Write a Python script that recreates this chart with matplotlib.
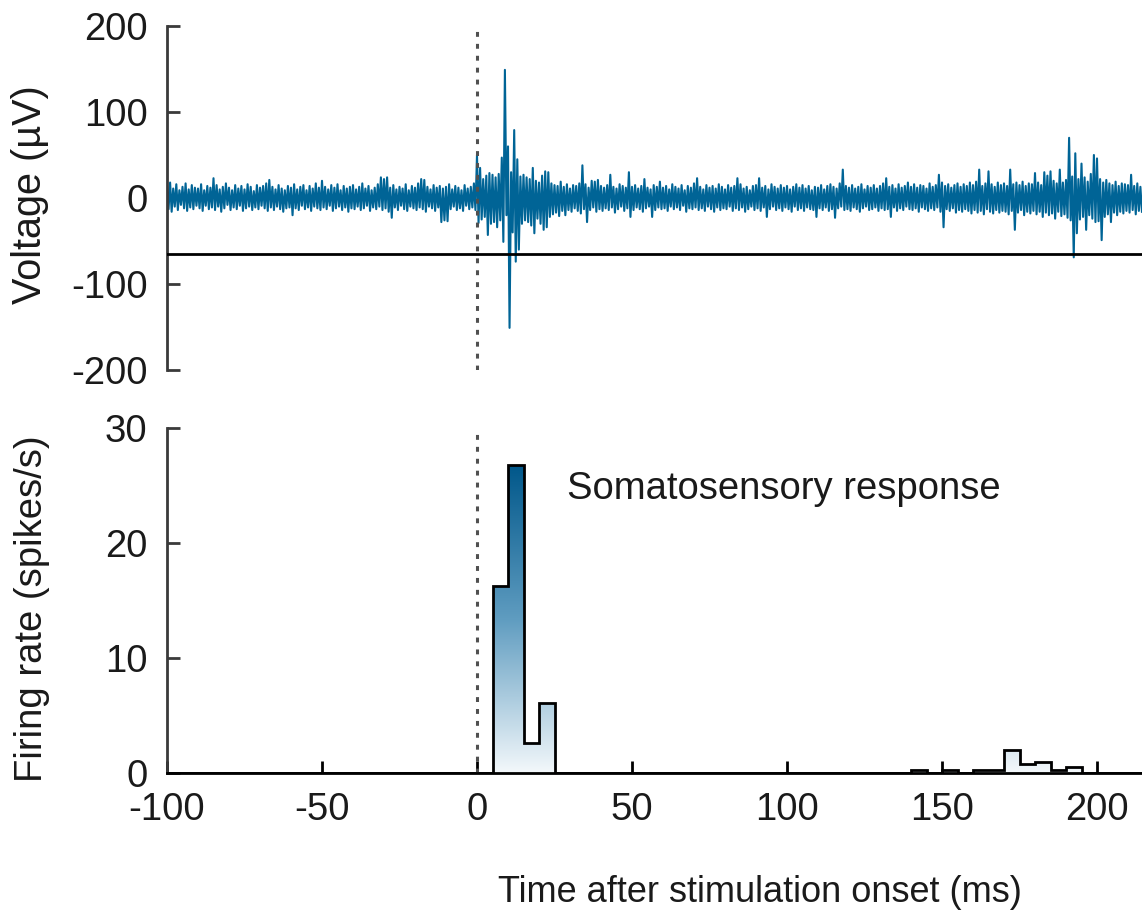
import numpy as np
import matplotlib
matplotlib.use("Agg")
import matplotlib.pyplot as plt
from matplotlib.colors import LinearSegmentedColormap
from matplotlib.patches import Polygon

plt.rcParams['font.family'] = ['Liberation Sans', 'DejaVu Sans']
plt.rcParams['axes.unicode_minus'] = False

# ---------------- data ----------------
# voltage trace: per-ms upper and lower excursions (µV), t = -100 .. 214 ms
trace_t0 = -100
trace_up = [
    14, 18, 11, 16, 9, 13, 17, 10, 15, 12,
    11, 16, 9, 14, 12, 23, 15, 10, 13, 17,
    12, 9, 15, 11, 14, 10, 16, 13, 8, 15,
    12, 14, 17, 21, 13, 10, 15, 11, 9, 14,
    12, 16, 10, 13, 15, 9, 14, 11, 17, 12,
    20, 13, 10, 15, 12, 16, 9, 14, 11, 13,
    15, 10, 13, 17, 11, 14, 9, 12, 16, 24,
    22, 24, 12, 15, 10, 13, 11, 16, 9, 14,
    12, 17, 22, 21, 13, 10, 15, 12, 14, 11,
    13, 16, 10, 14, 12, 9, 15, 11, 13, 17,
    50, 35, 22, 26, 29, 27, 24, 28, 47, 149,
    60, 30, 79, 45, 25, 27, 24, 22, 35, 20,
    18, 26, 31, 30, 17, 15, 14, 19, 13, 16,
    11, 15, 14, 17, 38, 16, 12, 20, 19, 21,
    14, 12, 15, 27, 13, 11, 16, 14, 12, 30,
    13, 15, 11, 14, 22, 12, 10, 15, 13, 19,
    12, 14, 10, 16, 13, 11, 15, 9, 14, 12,
    17, 23, 13, 10, 15, 12, 14, 11, 16, 13,
    10, 15, 12, 14, 23, 16, 11, 13, 9, 14,
    15, 23, 12, 14, 10, 16, 13, 11, 15, 12,
    14, 10, 13, 16, 12, 15, 11, 14, 9, 13,
    12, 15, 10, 14, 16, 13, 11, 17, 33, 14,
    12, 15, 11, 13, 16, 10, 14, 12, 15, 11,
    14, 17, 23, 13, 15, 11, 16, 12, 14, 18,
    13, 16, 12, 15, 14, 11, 17, 13, 15, 27,
    18, 14, 16, 12, 15, 17, 13, 16, 14, 18,
    15, 19, 33, 14, 17, 31, 16, 13, 18, 15,
    17, 14, 33, 16, 18, 15, 19, 14, 17, 16,
    29, 18, 15, 30, 26, 31, 20, 17, 33, 18,
    21, 70, 25, 52, 22, 40, 24, 19, 28, 50,
    46, 22, 18, 21, 17, 15, 19, 14, 17, 16,
    15, 27, 14, 17, 13,
]
trace_dn = [
    -13, -16, -10, -14, -8, -12, -15, -11, -13, -9,
    -12, -15, -9, -13, -11, -14, -10, -16, -12, -8,
    -14, -11, -13, -9, -15, -12, -10, -14, -11, -13,
    -9, -12, -15, -11, -14, -10, -13, -16, -12, -11,
    -20, -12, -14, -9, -13, -11, -15, -10, -12, -14,
    -11, -13, -9, -15, -12, -10, -14, -11, -16, -12,
    -13, -10, -14, -12, -9, -15, -11, -13, -10, -14,
    -12, -16, -23, -11, -14, -9, -13, -15, -10, -12,
    -14, -11, -13, -16, -10, -12, -15, -11, -28, -26,
    -27, -13, -10, -14, -12, -15, -9, -13, -11, -14,
    -29, -25, -22, -43, -30, -28, -34, -26, -51, -20,
    -151, -40, -74, -60, -30, -26, -28, -32, -41, -24,
    -30, -37, -34, -22, -19, -17, -21, -15, -20, -14,
    -16, -12, -15, -18, -13, -28, -14, -11, -16, -13,
    -15, -12, -14, -11, -17, -13, -10, -15, -12, -22,
    -14, -11, -13, -16, -12, -10, -22, -14, -11, -13,
    -12, -15, -10, -13, -11, -14, -9, -16, -12, -13,
    -11, -14, -12, -15, -10, -13, -16, -11, -14, -12,
    -13, -10, -15, -12, -14, -11, -16, -13, -10, -14,
    -12, -15, -11, -22, -13, -10, -14, -12, -15, -11,
    -13, -16, -10, -14, -12, -15, -11, -13, -14, -22,
    -12, -14, -11, -15, -13, -23, -12, -10, -14, -13,
    -15, -11, -13, -16, -12, -10, -14, -13, -11, -15,
    -12, -14, -13, -22, -11, -15, -12, -14, -10, -13,
    -14, -12, -16, -11, -13, -15, -12, -14, -11, -16,
    -34, -13, -15, -12, -17, -14, -16, -13, -15, -18,
    -14, -17, -15, -19, -13, -16, -18, -14, -17, -15,
    -16, -19, -15, -37, -17, -14, -20, -16, -18, -15,
    -19, -16, -22, -17, -20, -18, -24, -16, -21, -19,
    -23, -26, -69, -41, -25, -22, -37, -20, -24, -28,
    -27, -49, -22, -19, -28, -17, -20, -16, -18, -15,
    -17, -14, -19, -15, -16,
]
threshold_uv = -65

# PSTH
psth_edges = [-100, 5, 10, 15, 20, 25, 140, 145, 150, 155, 160, 165, 170,
              175, 180, 185, 190, 195, 215]
psth_rates = [0, 16.3, 26.8, 2.6, 6.1, 0, 0.3, 0, 0.25, 0, 0.3, 0.3, 2.0,
              0.8, 1.0, 0.25, 0.5, 0]

volt_ticks = [-200, -100, 0, 100, 200]
rate_ticks = [0, 10, 20, 30]
time_ticks = [-100, -50, 0, 50, 100, 150, 200]

# ---------------- figure ----------------
W, H = 1142, 917
fig = plt.figure(figsize=(W / 100, H / 100), dpi=100)

left = 167 / W
width = (W - 167) / W
xmax = -100 + (W - 167) / 3.1

ax1 = fig.add_axes([left, 1 - 370 / H, width, (370 - 26) / H])
ax2 = fig.add_axes([left, 1 - 773 / H, width, (773 - 428) / H])

trace_color = '#006496'
fs = 27.5
txt = '#1a1a1a'
spine_c = '#3a3a3a'
dot_kw = dict(color='#505050', lw=2.2, ls=(0, (1.6, 2.3)), zorder=4)

# trace as zig-zag between upper / lower excursions
up = np.array(trace_up, dtype=float)
dn = np.array(trace_dn, dtype=float)
t = trace_t0 + np.arange(len(up))
xs = np.empty(2 * len(up))
ys = np.empty(2 * len(up))
xs[0::2] = t
xs[1::2] = t + 0.5
ys[0::2] = up
ys[1::2] = dn
ax1.plot(xs, ys, color=trace_color, lw=1.5, zorder=2)
ax1.axhline(threshold_uv, color='black', lw=2.0, zorder=3)
ax1.axvline(0, **dot_kw)

ax1.set_xlim(-100, xmax)
ax1.set_ylim(-200, 200)
ax1.set_yticks(volt_ticks)
ax1.set_yticklabels([str(v) for v in volt_ticks])
ax1.set_xticks([])
for s in ['top', 'right', 'bottom']:
    ax1.spines[s].set_visible(False)
ax1.spines['left'].set_color(spine_c)
ax1.spines['left'].set_linewidth(2.0)
ax1.tick_params(axis='y', direction='in', length=9, width=2.0, color=spine_c,
                labelsize=fs, labelcolor=txt, pad=14)
ax1.set_ylabel('Voltage (µV)', fontsize=28.5, color=txt)
ax1.yaxis.set_label_coords(-0.1405, 0.51)
ax1.yaxis.label.set_va('center')

# PSTH with vertical gradient fill
edges = np.array(psth_edges, dtype=float)
rates = np.array(psth_rates, dtype=float)
vx = np.repeat(edges, 2)[1:-1]
vy = np.repeat(rates, 2)
poly_xy = np.column_stack([np.concatenate([[edges[0]], vx, [edges[-1]]]),
                           np.concatenate([[0], vy, [0]])])
clip = Polygon(poly_xy, closed=True, facecolor='none', edgecolor='none')
ax2.add_patch(clip)
cmap = LinearSegmentedColormap.from_list('g', ['#f3f8fb', '#5f9cc0', '#00578a'])
grad = np.linspace(0, 1, 256).reshape(-1, 1)
im = ax2.imshow(grad, origin='lower', aspect='auto', cmap=cmap,
                extent=[-100, xmax, 0, rates.max()], zorder=1)
im.set_clip_path(clip)
ax2.stairs(rates, edges, baseline=0, fill=False, edgecolor='black', lw=2.0,
           zorder=3)
ax2.axvline(0, **dot_kw)

ax2.text(29, 24.7, 'Somatosensory response', fontsize=fs, color=txt,
         ha='left', va='center')

ax2.set_xlim(-100, xmax)
ax2.set_ylim(0, 30)
ax2.set_yticks(rate_ticks)
ax2.set_yticklabels([str(v) for v in rate_ticks])
ax2.set_xticks(time_ticks)
ax2.set_xticklabels([str(v) for v in time_ticks])
for s in ['top', 'right']:
    ax2.spines[s].set_visible(False)
ax2.spines['left'].set_color(spine_c)
ax2.spines['left'].set_linewidth(2.0)
ax2.spines['bottom'].set_color('black')
ax2.spines['bottom'].set_linewidth(2.0)
ax2.spines['bottom'].set_zorder(5)
ax2.tick_params(axis='y', direction='in', length=9, width=2.0, color=spine_c,
                labelsize=fs, labelcolor=txt, pad=14)
ax2.tick_params(axis='x', direction='in', length=9, width=2.0, color='black',
                labelsize=fs, labelcolor=txt, pad=14)
ax2.set_ylabel('Firing rate (spikes/s)', fontsize=fs, color=txt)
ax2.yaxis.set_label_coords(-0.138, 0.475)
ax2.yaxis.label.set_va('center')
ax2.set_xlabel('Time after stimulation onset (ms)', fontsize=26, color=txt)
ax2.xaxis.set_label_coords((760 - 167) / (W - 167), -(893 - 773) / (773 - 428))
ax2.xaxis.label.set_va('center')

fig.savefig('out.png', dpi=100)
